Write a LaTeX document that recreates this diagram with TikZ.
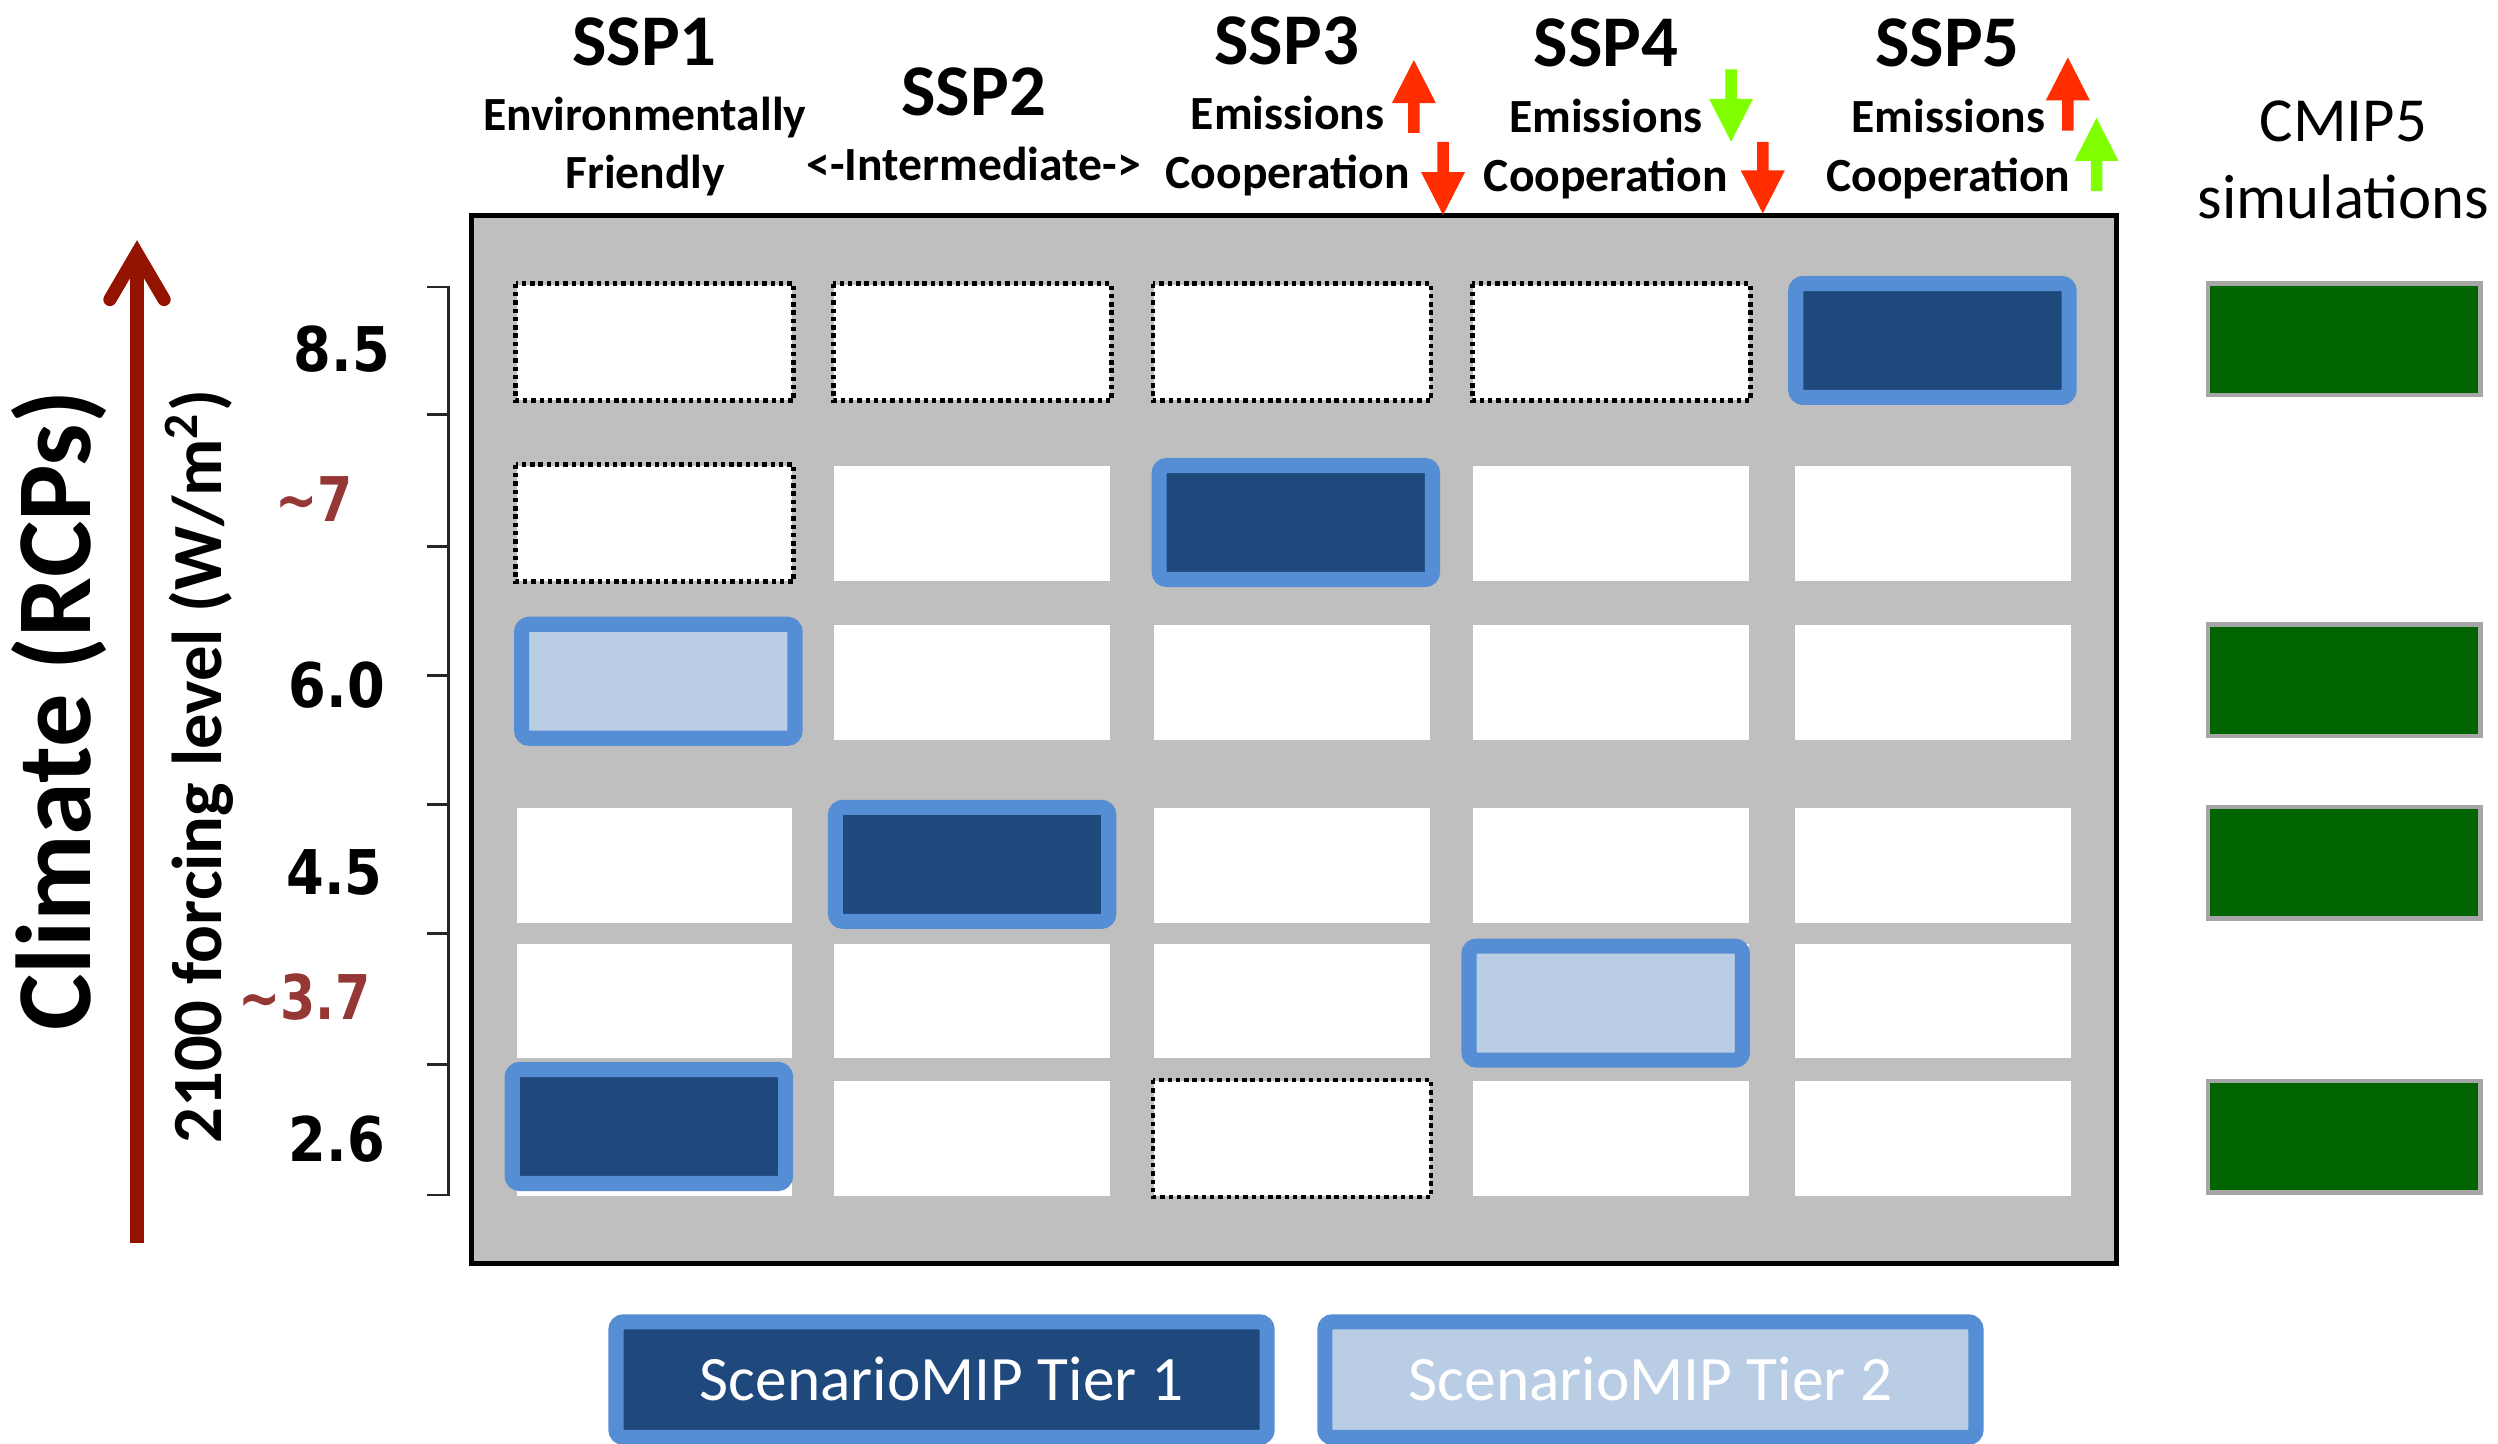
\documentclass[tikz,border=0pt]{standalone}
\usepackage{fontspec}
\usepackage{graphicx}
\setmainfont{Carlito}
\newfontfamily\numfont{DejaVu Sans}
\definecolor{panelgray}{RGB}{191,191,191}
\definecolor{tierdark}{RGB}{31,73,125}
\definecolor{tierborder}{RGB}{85,142,213}
\definecolor{tierlight}{RGB}{185,205,229}
\definecolor{cmipgreen}{RGB}{0,100,0}
\definecolor{cmipedge}{RGB}{166,166,166}
\definecolor{rcpbrown}{RGB}{149,55,53}
\definecolor{axisred}{RGB}{148,18,0}
\definecolor{hotred}{RGB}{255,45,0}
\definecolor{limegreen}{RGB}{128,255,0}
\newcommand{\blkup}[4]{\fill[#4] (#1-3.6,#3) -- (#1-3.6,#2+27) -- (#1-13.8,#2+27) -- (#1,#2) -- (#1+13.8,#2+27) -- (#1+3.6,#2+27) -- (#1+3.6,#3) -- cycle;}
\newcommand{\blkdown}[4]{\fill[#4] (#1-3.6,#2) -- (#1-3.6,#3-27) -- (#1-13.8,#3-27) -- (#1,#3) -- (#1+13.8,#3-27) -- (#1+3.6,#3-27) -- (#1+3.6,#2) -- cycle;}
\begin{document}
\begin{tikzpicture}[x=0.01cm, y=-0.01cm,
  cell/.style={fill=white, inner sep=0, minimum width=1.73cm, minimum height=0.72cm},
  dotline/.style={draw=black, line width=0.85pt, dash pattern=on 0.78pt off 0.7pt},
  tierone/.style={draw=tierborder, fill=tierdark, line width=2.7pt, rounded corners=1.35pt, inner sep=0, minimum width=1.715cm, minimum height=0.715cm},
  tiertwo/.style={tierone, fill=tierlight},
  cmip/.style={fill=cmipgreen, draw=cmipedge, line width=0.75pt, inner sep=0, minimum width=1.71cm, minimum height=0.70cm},
  hdr/.style={anchor=base, inner sep=0, font=\bfseries\fontsize{8.5}{10}\selectfont},
  ssp/.style={anchor=base, inner sep=0, font=\bfseries\fontsize{13}{15}\selectfont},
  rcp/.style={inner sep=0, font=\numfont\bfseries\fontsize{11}{13}\selectfont},
  legend/.style={tierone, minimum width=4.085cm, minimum height=0.725cm, text=white, font=\fontsize{11.3}{13}\selectfont, text height=7.3pt, text depth=0pt}
]
\useasboundingbox (0,0) rectangle (1568,906);

% main panel
\node[draw=black, fill=panelgray, line width=0.9pt, inner sep=0, minimum width=10.315cm, minimum height=6.573cm] (panel) at (812.25,464.35) {};

% white cells
\foreach \c/\cx in {1/410.9, 2/610.3, 3/811, 4/1011.4, 5/1213.5}
  \foreach \r/\ry in {1/214.8, 2/328.4, 3/428.5, 4/543.2, 5/628.4, 6/714.7}
    \node[cell] (c\c\r) at (\cx,\ry) {};

% dotted (not run) cells
\foreach \n in {c11, c21, c31, c41, c12, c36}
  \draw[dotline] (\n.north west) rectangle (\n.south east);

% ScenarioMIP highlighted cells
\node[tierone] (h51) at (1213,213.7) {};
\node[tierone] (h32) at (813.4,328) {};
\node[tiertwo] (h13) at (413.25,427.65) {};
\node[tierone] (h24) at (610.2,542.55) {};
\node[tiertwo] (h45) at (1007.9,629.65) {};
\node[tierone] (h16) at (407.3,707.1) {};

% CMIP5 boxes
\node[cmip] (g1) at (1471.5,213) {};
\node[cmip] (g2) at (1471.5,427) {};
\node[cmip] (g3) at (1471.5,541.5) {};
\node[cmip] (g4) at (1471.5,713.5) {};
\node[anchor=base, inner sep=0, font=\fontsize{11.2}{13}\selectfont] (cmipa) at (1471,88.9) {CMIP5};
\node[anchor=base, inner sep=0, font=\fontsize{11.2}{13}\selectfont] (cmipb) at (1471,137) {simulations};

% headers
\node[ssp] (s1) at (404.5,40.8) {SSP1};
\node[hdr] (s1a) at (404.7,81.6) {Environmentally};
\node[hdr] (s1b) at (405,118.2) {Friendly};
\node[ssp] (s2) at (611.2,72.2) {SSP2};
\node[hdr] (s2a) at (611.2,113) {<-Intermediate->};
\node[ssp] (s3) at (807.7,40.2) {SSP3};
\node[hdr] (s3a) at (808.3,81.2) {Emissions};
\node[hdr] (s3b) at (808.3,118.2) {Cooperation};
\node[ssp] (s4) at (1008,41.9) {SSP4};
\node[hdr] (s4a) at (1008,83.3) {Emissions};
\node[hdr] (s4b) at (1008,120.3) {Cooperation};
\node[ssp] (s5) at (1222.5,41.9) {SSP5};
\node[hdr] (s5a) at (1223,83.3) {Emissions};
\node[hdr] (s5b) at (1223,120.3) {Cooperation};

% block arrows
\blkup{887.5}{37.7}{83.4}{hotred}
\blkdown{905.8}{89}{135}{hotred}
\blkdown{1086.6}{43.5}{89}{limegreen}
\blkdown{1106.5}{89}{134}{hotred}
\blkup{1298}{36}{82}{hotred}
\blkup{1316}{74}{120}{limegreen}

% forcing axis
\draw[black!85, line width=0.45pt] (268,180) -- (281.5,180) -- (281.5,750) -- (268,750);
\foreach \t in {260,343,424,505,586,668}
  \draw[black!85, line width=0.5pt] (268,\t) -- (281.5,\t);

\node[rcp] (f85) at (214.5,219) {\scalebox{0.88}[1]{8.5}};
\node[rcp, text=rcpbrown] (f7) at (197,313) {\scalebox{0.82}[1]{\textasciitilde 7}};
\node[rcp] (f60) at (211.5,430) {\scalebox{0.88}[1]{6.0}};
\node[rcp] (f45) at (210,547.6) {\scalebox{0.88}[1]{4.5}};
\node[rcp, text=rcpbrown] (f37) at (191,626) {\scalebox{0.82}[1]{\textasciitilde 3.7}};
\node[rcp] (f26) at (211.5,715) {\scalebox{0.88}[1]{2.6}};

% climate arrow
\coordinate (abot) at (86,780);
\coordinate (atop) at (86,159);
\draw[axisred, line width=2.36pt] (abot) -- (atop);
\draw[axisred, line width=2.36pt, line cap=round, line join=miter] (69,188) -- (atop) -- (103,188);

\node[rotate=90, anchor=base, inner sep=0, font=\bfseries\fontsize{19}{22}\selectfont] (clim) at (56.5,446) {Climate (RCPs)};
\node[rotate=90, anchor=base, inner sep=0, font=\bfseries\fontsize{12.6}{15}\selectfont] (forc) at (139.3,481) {2100 forcing level (W/m\textsuperscript{2})};

% legend
\node[legend] (leg1) at (591,866) {ScenarioMIP Tier 1};
\node[legend, fill=tierlight] (leg2) at (1036,866) {ScenarioMIP Tier 2};
\end{tikzpicture}
\end{document}
